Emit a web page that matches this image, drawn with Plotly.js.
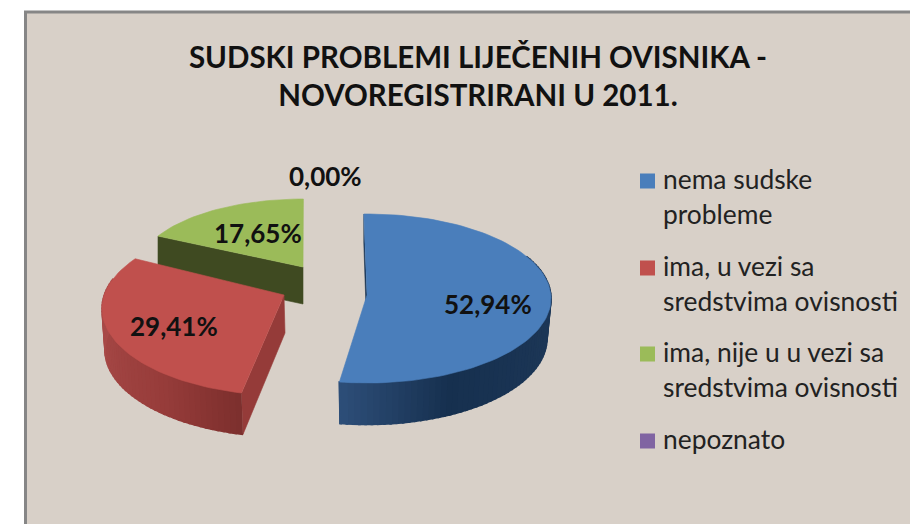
<!DOCTYPE html>
<html>
<head>
<meta charset="utf-8">
<script src="https://cdn.plot.ly/plotly-3.0.1.min.js"></script>
<style>html,body{margin:0;padding:0;background:#fff}#plot{width:910px;height:524px}</style>
</head>
<body>
<div id="plot"></div>
<script>
const chartTitle = "SUDSKI PROBLEMI LIJEČENIH OVISNIKA -<br>NOVOREGISTRIRANI U 2011.";
const categories = ["nema sudske<br>probleme", "ima, u vezi sa<br>sredstvima ovisnosti", "ima, nije u u vezi sa<br>sredstvima ovisnosti", "nepoznato"];
const values = [52.94, 29.41, 17.65, 0.00];
const colors = ["#4a7ebb", "#c0504d", "#9bbb59", "#8064a2"];

// Projection of each exploded slice (the 3D tilt is not available in Plotly, so it is projected here)
const geometry = [
  {cx:367, cy:298.5, rx:184, ry:84.5, ax:367, ay:295, bx:367, by:338.5, brx:180, bry:86, start:-1, stretch:0.995,
   from:60, wallColor:"#16304f", stops:[[60,"#1d3757"],[100,"#1d3757"],[154,"#16304f"],[190,"#2e4f7a"]], apexDepth:42},
  {cx:286, cy:308.6, rx:184, ry:87, ax:284, ay:295, bx:287, by:350, brx:182, bry:87, start:194, stretch:1.048,
   from:194, to:290, wallColor:"#953b39", stops:[[194,"#7c2f2d"],[222,"#973c3a"],[270,"#a84a48"],[305,"#a84a48"]], apexDepth:38},
  {cx:303, cy:270, rx:165, ry:71, ax:303, ay:267, bx:303, by:307, brx:165, bry:71, start:298.5, stretch:0.97,
   wallColor:"#3f4a21", stops:[], apexDepth:37}
];
const labelPositions = [[488,304],[174,326],[258,233],[325,176]];
const legendX = 647.5, legendTextX = 661;
const legendMarkerY = [181, 268, 354, 441];
const legendLineGap = 35;
const legendTextShift = -2;
const bg = "#d8d0c8", frame = "#868686";

const rad = d => d*Math.PI/180;
const hex = c => [1,3,5].map(i => parseInt(c.substr(i,2),16));
function colorAt(stops, t){
  for(let i=0;i<stops.length-1;i++){
    if(t<=stops[i+1][0]){
      const f=(t-stops[i][0])/(stops[i+1][0]-stops[i][0]);
      const a=hex(stops[i][1]), b=hex(stops[i+1][1]);
      return "rgb("+a.map((v,k)=>Math.round(v+(b[k]-v)*f)).join(",")+")";
    }
  }
  return stops[stops.length-1][1];
}
const topPt = (g,t) => [g.cx+g.rx*Math.sin(rad(t)), g.cy-g.ry*Math.cos(rad(t))];
const botPt = (g,t) => [g.bx+g.brx*Math.sin(rad(t)), g.by-g.bry*Math.cos(rad(t))];
const poly = (pts,color,w) => ({type:"scatter",mode:"lines",x:pts.map(p=>p[0]),y:pts.map(p=>p[1]),fill:"toself",fillcolor:color,
  line:{color:color,width:w||0.6},hoverinfo:"skip",showlegend:false});

const traces = [];
[2,1,0].forEach(i => {
  const g = geometry[i];
  const t0 = g.start, t1 = g.start + values[i]*3.6*g.stretch;
  const apex = [g.ax,g.ay], apexB = [g.ax+(i===1?1:0), g.ay+g.apexDepth];
  // radial walls
  if(i===0){
    traces.push(poly([topPt(g,t0), [topPt(g,t0)[0],topPt(g,t0)[1]+28], apexB, apex], "#16304f"));
  } else {
    traces.push(poly([apex, apexB, botPt(g,t0), topPt(g,t0)], g.wallColor));
  }
  // curved outer wall, drawn in narrow strips for the shading
  if(g.stops.length){
    const lo = i===0 ? g.from : t0;
    const hi = i===0 ? t1 : g.to;
    for(let t=lo;t<hi;t+=2){
      const e=Math.min(t+2.6,hi);
      traces.push(poly([topPt(g,t),topPt(g,e),botPt(g,e),botPt(g,t)], colorAt(g.stops,(t+e)/2), 1.6));
    }
  }
  // top face
  const pts=[apex];
  for(let t=t0;t<t1;t+=2) pts.push(topPt(g,t));
  pts.push(topPt(g,t1)); pts.push(apex);
  traces.push(poly(pts, colors[i]));
});

// legend keys
categories.forEach((c,i)=>{
  traces.push({type:"scatter",mode:"markers",x:[legendX],y:[legendMarkerY[i]],name:c.replace("<br>"," "),
    marker:{symbol:"square",size:15,color:colors[i]},hoverinfo:"skip",showlegend:false});
});

const annotations = [];
values.forEach((v,i)=>{
  annotations.push({x:labelPositions[i][0],y:labelPositions[i][1],xref:"x",yref:"y",showarrow:false,
    text:"<b>"+v.toFixed(2).replace(".",",")+"%</b>",font:{family:"Lato",size:26,color:"#111111"}});
});
categories.forEach((c,i)=>{
  c.split("<br>").forEach((line,k)=>{
    annotations.push({x:legendTextX,y:legendMarkerY[i]+k*legendLineGap+legendTextShift,xref:"x",yref:"y",showarrow:false,
      xanchor:"left",yanchor:"middle",text:line,font:{family:"Lato",size:26.4,color:"#222222"}});
  });
});

const layout = {
  width:910,height:524,margin:{l:0,r:0,t:0,b:0},paper_bgcolor:"#ffffff",plot_bgcolor:"rgba(0,0,0,0)",
  showlegend:false,
  title:{text:"<b>"+chartTitle+"</b>",x:478/910,xanchor:"center",y:1-68/524,yanchor:"top",
    font:{family:"Lato",size:29.5,color:"#111111"}},
  xaxis:{range:[0,910],visible:false,fixedrange:true},
  yaxis:{range:[524,0],visible:false,fixedrange:true},
  shapes:[{type:"rect",xref:"x",yref:"y",x0:25.5,y0:12,x1:930,y1:560,fillcolor:bg,line:{color:frame,width:3},layer:"below"}],
  annotations:annotations
};
Plotly.newPlot("plot",traces,layout,{displayModeBar:false,staticPlot:true});
</script>
</body>
</html>
